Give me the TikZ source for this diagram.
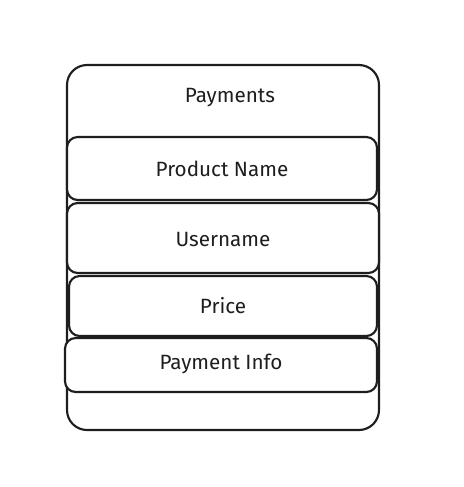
\documentclass[tikz,border=0pt]{standalone}
\usepackage{fontspec}
\setmainfont{Fira Sans}
\definecolor{ink}{HTML}{1E1E1E}
\begin{document}
\begin{tikzpicture}[x=0.75pt,y=-0.75pt,
  outerbox/.style={draw=ink,line width=1.6pt,rounded corners=15pt},
  field/.style={draw=ink,line width=1.6pt,rounded corners=8pt,fill=white},
  lbl/.style={text=ink,font=\fontsize{15.5}{18}\selectfont}]
\useasboundingbox (0,0) rectangle (464,487);
\fill[white] (0,0) rectangle (464,487);
\draw[outerbox] (67,65) rectangle (379,430);
\node[lbl] (title) at (230,98) {Payments};
\draw[field] (67,137) rectangle (377,200);
\node[lbl] (pname) at (222,169) {Product Name};
\draw[field] (67,203) rectangle (379,273);
\node[lbl] (uname) at (223,239) {Username};
\draw[field] (69,276) rectangle (377,336);
\node[lbl] (price) at (223,306) {Price};
\draw[field] (65,338) rectangle (377,392);
\node[lbl] (pinfo) at (221,364) {Payment Info};
\end{tikzpicture}
\end{document}
